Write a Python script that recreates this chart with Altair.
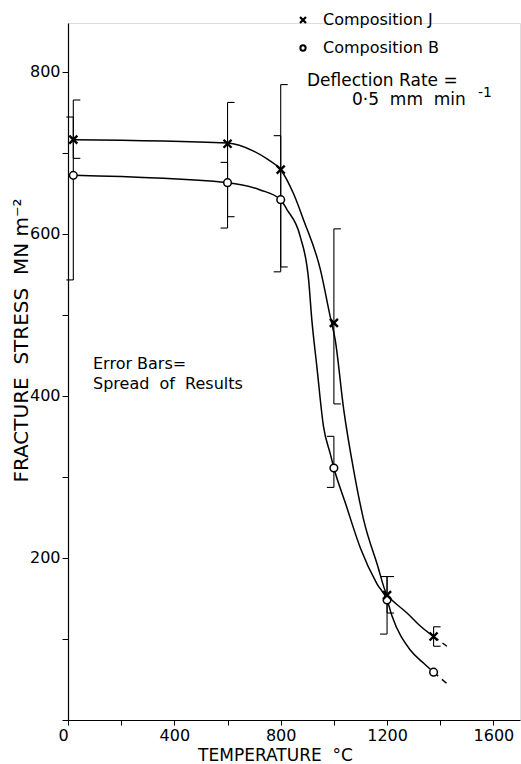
import altair as alt
import pandas as pd

# ---- data ----
temps = [20, 600, 800, 1000, 1200, 1375]
j_stress = [716, 711, 679, 490, 154, 103]
j_low = [693, 621, 559, 390, 132, 91]
j_high = [765, 762, 784, 606, 177, 115]

b_stress = [672, 663, 642, 311, 148, 59]
b_err_temps = [20, 600, 800, 1000, 1200]
b_low = [543, 607, 553, 287, 106]
b_high = [744, 688, 721, 350, 177]

# hand-drawn fitted curves
j_curve_t = [20, 600, 698, 750, 800, 850, 886, 949, 986, 1005, 1037, 1074, 1112, 1162, 1200, 1218, 1275, 1325, 1375]
j_curve_s = [716, 712, 702, 692, 679, 648, 617, 556, 498, 469, 383, 309, 247, 193, 154, 148, 132, 116, 103]
b_curve_t = [20, 600, 723, 800, 823, 873, 905, 917, 936, 961, 986, 1000, 1043, 1100, 1162, 1200, 1219, 1288, 1338, 1375]
b_curve_s = [672, 663, 654, 642, 630, 597, 543, 494, 436, 362, 329, 311, 268, 212, 168, 148, 128, 86, 70, 59]

j_dash_t = [1375, 1425]
j_dash_s = [103, 91]
b_dash_t = [1375, 1425]
b_dash_s = [59, 45]

series = ["Composition J", "Composition B"]
x_ticks = [0, 200, 400, 600, 800, 1000, 1200, 1400, 1600]
y_ticks = [0, 100, 200, 300, 400, 500, 600, 700, 800]

FONT = "DejaVu Sans"
CROSS = "M-1,-1L1,1M1,-1L-1,1"
NB = "\u00a0"

pts_j = pd.DataFrame({"T": temps, "stress": j_stress})
pts_b = pd.DataFrame({"T": temps, "stress": b_stress})
curves = pd.DataFrame({
    "T": j_curve_t + b_curve_t,
    "stress": j_curve_s + b_curve_s,
    "comp": [series[0]] * len(j_curve_t) + [series[1]] * len(b_curve_t),
})
dashes = pd.DataFrame({
    "T": j_dash_t + b_dash_t,
    "stress": j_dash_s + b_dash_s,
    "comp": [series[0]] * 2 + [series[1]] * 2,
})
err_j = pd.DataFrame({"T": temps, "lo": j_low, "hi": j_high})
err_b = pd.DataFrame({"T": b_err_temps, "lo": b_low, "hi": b_high})

xs = alt.Scale(domain=[0, 1700], nice=False, zero=False)
ys = alt.Scale(domain=[0, 860], nice=False, zero=False)

x_axis = alt.Axis(
    values=x_ticks, format="d",
    labelExpr="datum.value % 400 === 0 ? datum.label : ''",
    labelOffset={"condition": {"test": "datum.value === 0", "value": -10}, "value": 0},
    grid=False, tickSize=5, tickColor="black", domainColor="black", domainWidth=1.2,
    labelFont=FONT, labelFontSize=16, labelColor="black", labelPadding=2,
    title="TEMPERATURE " + NB + "°C", titleFont=FONT, titleFontSize=17, titleFontWeight="normal",
    titleColor="black", titleX=207, titleY=27, titleBaseline="top",
)
y_axis = alt.Axis(
    values=y_ticks, format="d",
    labelExpr="(datum.value % 200 === 0 && datum.value > 0) ? datum.label : ''",
    grid=False, tickSize=6, tickColor="black", domainColor="black", domainWidth=1.2,
    labelFont=FONT, labelFontSize=16, labelColor="black", labelPadding=2,
    title="FRACTURE" + NB * 2 + "STRESS" + NB * 2 + "MN" + NB + "m\u207b\u00b2",
    titleFont=FONT, titleFontSize=20,
    titleFontWeight="normal", titleColor="black", titleAngle=270,
    titleX=-47, titleY=317, titleAlign="center", titleBaseline="middle",
)

X = alt.X("T:Q", scale=xs, axis=x_axis)
Y = alt.Y("stress:Q", scale=ys, axis=y_axis)

lines = alt.Chart(curves).mark_line(
    interpolate="monotone", color="black", strokeWidth=1.5
).encode(x=X, y=Y, detail="comp:N")

dash_lines = alt.Chart(dashes).mark_line(
    color="black", strokeWidth=1.5, strokeDash=[6, 5]
).encode(x="T:Q", y="stress:Q", detail="comp:N")

bars_j = alt.Chart(err_j).mark_rule(color="black", strokeWidth=1.1).encode(
    x="T:Q", y="lo:Q", y2="hi:Q")
bars_b = alt.Chart(err_b).mark_rule(color="black", strokeWidth=1.1).encode(
    x="T:Q", y="lo:Q", y2="hi:Q")

caps_j = alt.Chart(err_j).transform_fold(["lo", "hi"]).mark_rule(
    color="black", strokeWidth=1.1, x2Offset=7
).encode(x="T:Q", x2="T:Q", y="value:Q")
caps_b = alt.Chart(err_b).transform_fold(["lo", "hi"]).mark_rule(
    color="black", strokeWidth=1.1, x2Offset=-7
).encode(x="T:Q", x2="T:Q", y="value:Q")

circ_b = alt.Chart(pts_b).mark_point(
    shape="circle", filled=True, fill="white", stroke="black", strokeWidth=1.5,
    size=58, opacity=1
).encode(x="T:Q", y="stress:Q")

cross_j = alt.Chart(pts_j).mark_point(
    shape=CROSS, filled=False, stroke="black", strokeWidth=2.4, size=64, opacity=1
).encode(x="T:Q", y="stress:Q")

one = pd.DataFrame({"a": [0]})


def note(txt, x, y, size=16, align="left"):
    return alt.Chart(one).mark_text(
        text=txt, align=align, baseline="middle", font=FONT, fontSize=size, color="black"
    ).encode(x=alt.value(x), y=alt.value(y))


# manual key (top right)
key_j = alt.Chart(one).mark_point(
    shape=CROSS, filled=False, stroke="black", strokeWidth=2.2, size=36, opacity=1
).encode(x=alt.value(235), y=alt.value(-3))
key_b = alt.Chart(one).mark_point(
    shape="circle", filled=False, stroke="black", strokeWidth=2, size=28, opacity=1
).encode(x=alt.value(235), y=alt.value(25))

notes = [
    note(series[0], 255, -3),
    note(series[1], 255, 25),
    note("Deflection Rate =", 239, 58, size=17),
    note("0\u00b75" + NB + " mm" + NB + " min", 284, 77, size=17),
    note("-1", 410, 70, size=14),
    note("Error Bars=", 25, 341),
    note("Spread" + NB + " of" + NB + " Results", 25, 361),
]

chart = alt.layer(
    lines, dash_lines, bars_j, bars_b, caps_j, caps_b, circ_b, cross_j,
    key_j, key_b, *notes
).properties(
    width=452, height=697,
    autosize=alt.AutoSizeParams(type="none"),
    padding={"left": 68, "top": 23, "right": 1, "bottom": 44},
).configure_view(stroke=None).configure(background="white")

chart.save("out.html", embed_options={"renderer": "svg", "actions": False})
